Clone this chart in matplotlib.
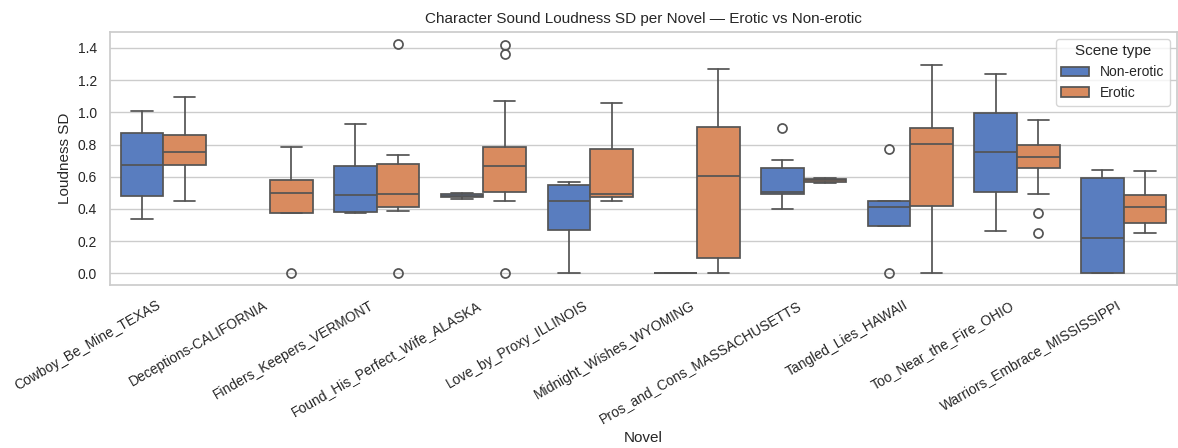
import matplotlib
matplotlib.use("Agg")
import matplotlib.pyplot as plt
import seaborn as sns
from matplotlib.patches import Patch

sns.set_theme(style="whitegrid")
plt.rcParams['font.family'] = ['Liberation Sans', 'DejaVu Sans']

novels = ["Cowboy_Be_Mine_TEXAS", "Deceptions-CALIFORNIA", "Finders_Keepers_VERMONT",
          "Found_His_Perfect_Wife_ALASKA", "Love_by_Proxy_ILLINOIS", "Midnight_Wishes_WYOMING",
          "Pros_and_Cons_MASSACHUSETTS", "Tangled_Lies_HAWAII", "Too_Near_the_Fire_OHIO",
          "Warriors_Embrace_MISSISSIPPI"]
hues = ["Non-erotic", "Erotic"]

# Box statistics (None = no data for that group)
non_whislo = [0.337, None, 0.376, 0.463, 0.000, 0.000, 0.398, 0.293, 0.266, 0.000]
non_q1     = [0.479, None, 0.384, 0.475, 0.271, 0.000, 0.492, 0.293, 0.508, 0.000]
non_med    = [0.675, None, 0.487, 0.483, 0.452, 0.000, 0.506, 0.411, 0.752, 0.219]
non_q3     = [0.871, None, 0.667, 0.491, 0.551, 0.000, 0.655, 0.449, 0.995, 0.591]
non_whishi = [1.008, None, 0.929, 0.502, 0.566, 0.000, 0.702, 0.452, 1.239, 0.644]
non_fliers = [[], [], [], [], [], [], [0.905], [0.770, 0.0], [], []]

ero_whislo = [0.452, 0.376, 0.388, 0.450, 0.449, 0.000, 0.563, 0.000, 0.494, 0.252]
ero_q1     = [0.675, 0.376, 0.413, 0.505, 0.476, 0.097, 0.569, 0.417, 0.657, 0.314]
ero_med    = [0.756, 0.502, 0.491, 0.669, 0.492, 0.605, 0.577, 0.803, 0.725, 0.409]
ero_q3     = [0.857, 0.578, 0.679, 0.782, 0.771, 0.907, 0.585, 0.904, 0.795, 0.487]
ero_whishi = [1.097, 0.785, 0.737, 1.070, 1.055, 1.266, 0.589, 1.291, 0.950, 0.636]
ero_fliers = [[], [0.0], [1.425, 0.0], [1.415, 1.365, 0.0], [], [], [], [], [0.376, 0.250], []]

pal = sns.color_palette("muted")
colors = [sns.desaturate(pal[0], 0.75), sns.desaturate(pal[1], 0.75)]
import colorsys
lum = min(colorsys.rgb_to_hls(*c[:3])[1] for c in colors) * 0.6
line_col = (lum, lum, lum)

fig = plt.figure(figsize=(11.78, 4.48), dpi=100)
ax = fig.add_axes([0.0934, 0.364, 0.9058, 0.565])

series = [
    (non_whislo, non_q1, non_med, non_q3, non_whishi, non_fliers, -0.2, colors[0]),
    (ero_whislo, ero_q1, ero_med, ero_q3, ero_whishi, ero_fliers, 0.2, colors[1]),
]
lw = 1.25
for wl, q1, md, q3, wh, fl, off, col in series:
    stats, pos = [], []
    for i in range(len(novels)):
        if md[i] is None:
            continue
        stats.append(dict(whislo=wl[i], q1=q1[i], med=md[i], q3=q3[i], whishi=wh[i], fliers=fl[i]))
        pos.append(i + off)
    ax.bxp(stats, positions=pos, widths=0.4, patch_artist=True, showfliers=True,
           capwidths=0.2, manage_ticks=False,
           boxprops=dict(facecolor=col, edgecolor=line_col, linewidth=lw),
           medianprops=dict(color=line_col, linewidth=lw),
           whiskerprops=dict(color=line_col, linewidth=lw),
           capprops=dict(color=line_col, linewidth=lw),
           flierprops=dict(marker="o", markerfacecolor="none", markeredgecolor=line_col,
                           markersize=6.5, markeredgewidth=lw))

ax.set_xlim(-0.5, len(novels) - 0.5)
ax.set_ylim(-0.072, 1.50)
ax.set_xticks(range(len(novels)))
ax.set_xticklabels(novels, rotation=30, ha="right", fontsize=10, rotation_mode="default")
ax.set_yticks([0.0, 0.2, 0.4, 0.6, 0.8, 1.0, 1.2, 1.4])
ax.tick_params(axis="y", labelsize=10)
ax.xaxis.grid(False)
ax.set_xlabel("Novel", fontsize=11)
ax.set_ylabel("Loudness SD", fontsize=11)
ax.set_title("Character Sound Loudness SD per Novel — Erotic vs Non-erotic", fontsize=11)

handles = [Patch(facecolor=colors[k], edgecolor=line_col, linewidth=lw, label=hues[k]) for k in range(2)]
ax.legend(handles=handles, title="Scene type", loc="upper right", fontsize=10, title_fontsize=11)

fig.savefig("out.png", dpi=100)
